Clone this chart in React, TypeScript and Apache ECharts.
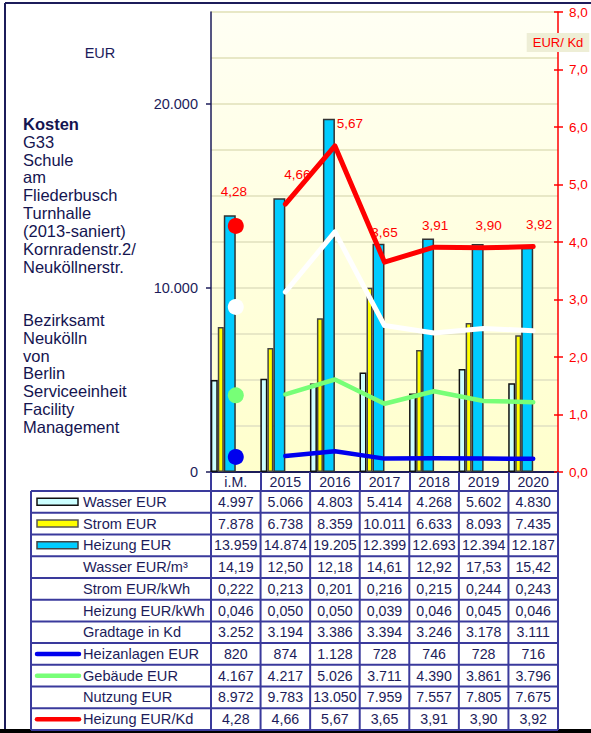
import React, { useEffect, useRef } from 'react';
import * as echarts from 'echarts';

const categories = ['i.M.', '2015', '2016', '2017', '2018', '2019', '2020'];
const wasserEUR = [4997, 5066, 4803, 5414, 4268, 5602, 4830];
const stromEUR = [7878, 6738, 8359, 10011, 6633, 8093, 7435];
const heizungEUR = [13959, 14874, 19205, 12399, 12693, 12394, 12187];
const wasserEURm3 = [14.19, 12.5, 12.18, 14.61, 12.92, 17.53, 15.42];
const stromEURkWh = [0.222, 0.213, 0.201, 0.216, 0.215, 0.244, 0.243];
const heizungEURkWh = [0.046, 0.05, 0.05, 0.039, 0.046, 0.045, 0.046];
const gradtage = [3252, 3194, 3386, 3394, 3246, 3178, 3111];
const heizanlagenEUR = [820, 874, 1128, 728, 746, 728, 716];
const gebaeudeEUR = [4167, 4217, 5026, 3711, 4390, 3861, 3796];
const nutzungEUR = [8972, 9783, 13050, 7959, 7557, 7805, 7675];
const heizungEURKd = [4.28, 4.66, 5.67, 3.65, 3.91, 3.9, 3.92];
const leftTickValues = [0, 10000, 20000];
const titleLines = [
  'Kosten', 'G33', 'Schule', 'am', 'Fliederbusch', 'Turnhalle', '(2013-saniert)',
  'Kornradenstr.2/', 'Neuköllnerstr.', '', '', 'Bezirksamt', 'Neukölln', 'von', 'Berlin',
  'Serviceeinheit', 'Facility', 'Management',
];

const FONT = "'Liberation Sans', Arial, sans-serif";
const NAVY = '#1c1c5a';
const TLINE = '#3a3a9c';
const C_WASSER = '#CCFFFF';
const C_STROM = '#FFFF00';
const C_HEIZ = '#00CCFF';
const C_BLUE = '#0000EE';
const C_GREEN = '#77FF77';
const C_RED = '#FF0000';

function fmt(v: number, dec: number): string {
  const s = v.toFixed(dec);
  const parts = s.split('.');
  const i = parts[0].replace(/\B(?=(\d{3})+(?!\d))/g, '.');
  return parts[1] ? i + ',' + parts[1] : i;
}

// layout constants
const GL = 211, GT = 12, GW = 347, GH = 460;
const COLW = GW / categories.length;
const TTOP = 491, ROWH = 21.73, TLEFT = 31;

type Row = { label: string; values: number[]; dec: number; sym?: { kind: string; fill?: string; stroke: string } };

export default function App() {
  const ref = useRef<HTMLDivElement>(null);
  useEffect(() => {
    const chart = echarts.init(ref.current!, null, { renderer: 'svg' });

    const rows: Row[] = [
      { label: 'Wasser EUR', values: wasserEUR, dec: 0, sym: { kind: 'rect', fill: C_WASSER, stroke: '#111' } },
      { label: 'Strom EUR', values: stromEUR, dec: 0, sym: { kind: 'rect', fill: C_STROM, stroke: '#555' } },
      { label: 'Heizung EUR', values: heizungEUR, dec: 0, sym: { kind: 'rect', fill: C_HEIZ, stroke: '#444' } },
      { label: 'Wasser EUR/m³', values: wasserEURm3, dec: 2 },
      { label: 'Strom EUR/kWh', values: stromEURkWh, dec: 3 },
      { label: 'Heizung EUR/kWh', values: heizungEURkWh, dec: 3 },
      { label: 'Gradtage in Kd', values: gradtage, dec: 0 },
      { label: 'Heizanlagen EUR', values: heizanlagenEUR, dec: 0, sym: { kind: 'line', stroke: C_BLUE } },
      { label: 'Gebäude EUR', values: gebaeudeEUR, dec: 0, sym: { kind: 'line', stroke: C_GREEN } },
      { label: 'Nutzung EUR', values: nutzungEUR, dec: 0 },
      { label: 'Heizung EUR/Kd', values: heizungEURKd, dec: 2, sym: { kind: 'line', stroke: C_RED } },
    ];

    const g: any[] = [];
    // outer frame
    g.push({ type: 'line', shape: { x1: 5, y1: 3, x2: 5, y2: 730 }, style: { stroke: NAVY, lineWidth: 2 } });
    g.push({ type: 'line', shape: { x1: 5, y1: 3, x2: 600, y2: 3 }, style: { stroke: NAVY, lineWidth: 2 } });
    g.push({ type: 'rect', shape: { x: 0, y: 729, width: 600, height: 4 }, style: { fill: '#000' } });

    // left text block
    titleLines.forEach((t, i) => {
      if (!t) return;
      g.push({
        type: 'text', x: 23, y: 124 + i * 17.82,
        style: { text: t, fill: '#141450', fontSize: 16.5, fontFamily: FONT, fontWeight: i === 0 ? 'bold' : 'normal', align: 'left', verticalAlign: 'middle' },
      });
    });
    g.push({ type: 'text', x: 100, y: 53, style: { text: 'EUR', fill: NAVY, fontSize: 14.5, fontFamily: FONT, align: 'center', verticalAlign: 'middle' } });
    g.push({
      type: 'text', x: 558, y: 42.5, z: 10,
      style: { text: 'EUR/ Kd', fill: C_RED, fontSize: 13, fontFamily: FONT, align: 'center', verticalAlign: 'middle', backgroundColor: '#EEEED6', padding: [3, 6, 3, 6], lineHeight: 13 },
    });

    // table
    const nRows = rows.length;
    const tBottom = TTOP + nRows * ROWH;
    for (let k = 0; k <= nRows; k++) {
      const y = TTOP + k * ROWH;
      g.push({ type: 'line', shape: { x1: TLEFT, y1: y, x2: GL + GW, y2: y }, style: { stroke: TLINE, lineWidth: 2 } });
    }
    g.push({ type: 'line', shape: { x1: TLEFT, y1: TTOP, x2: TLEFT, y2: tBottom }, style: { stroke: TLINE, lineWidth: 2 } });
    for (let c = 0; c <= categories.length; c++) {
      const x = GL + c * COLW;
      g.push({ type: 'line', shape: { x1: x, y1: TTOP, x2: x, y2: tBottom }, style: { stroke: TLINE, lineWidth: 2 } });
    }
    rows.forEach((r, k) => {
      const cy = TTOP + k * ROWH + ROWH / 2;
      g.push({ type: 'text', x: 83, y: cy, style: { text: r.label, fill: NAVY, fontSize: 14.6, fontFamily: FONT, align: 'left', verticalAlign: 'middle' } });
      if (r.sym) {
        if (r.sym.kind === 'rect') {
          g.push({ type: 'rect', shape: { x: 37, y: cy - 3.5, width: 41, height: 7 }, style: { fill: r.sym.fill, stroke: r.sym.stroke, lineWidth: 1.5 } });
        } else {
          g.push({ type: 'line', shape: { x1: 37, y1: cy, x2: 79, y2: cy }, style: { stroke: r.sym.stroke, lineWidth: 4.5, lineCap: 'round' } });
        }
      }
      r.values.forEach((v, c) => {
        g.push({
          type: 'text', x: GL + (c + 0.5) * COLW, y: cy,
          style: { text: fmt(v, r.dec), fill: NAVY, fontSize: 14.2, fontFamily: FONT, align: 'center', verticalAlign: 'middle' },
        });
      });
    });

    const labelOffsets = [[-2, -5], [12, -8], [15, 0], [0, -8], [1, 0], [5, 0], [6, 0]];
    const redLabel = {
      show: true, position: 'top', distance: 14, color: C_RED, fontSize: 13.5, fontFamily: FONT,
      formatter: (p: any) => fmt(Array.isArray(p.value) ? p.value[1] : p.value, 2),
    };
    const restNull = (arr: number[]) => arr.map((v, i) => (i === 0 ? '-' : v));

    const option: any = {
      animation: false,
      backgroundColor: '#ffffff',
      grid: {
        left: GL, top: GT, width: GW, height: GH, show: true, borderWidth: 0,
        backgroundColor: { type: 'linear', x: 0, y: 0, x2: 0, y2: 1, colorStops: [{ offset: 0, color: '#FFFFF4' }, { offset: 1, color: '#FFFFCC' }] },
      },
      xAxis: {
        type: 'category', data: categories, boundaryGap: true,
        axisLine: { lineStyle: { color: NAVY, width: 2 } },
        axisTick: { show: true, interval: 0, length: 19, lineStyle: { color: TLINE, width: 2 } },
        axisLabel: { interval: 0, margin: 3, color: NAVY, fontSize: 14.2, fontFamily: FONT },
        splitLine: { show: false },
      },
      yAxis: [
        {
          type: 'value', min: 0, max: 25000, interval: 2500, position: 'left',
          axisLine: { show: true, lineStyle: { color: NAVY, width: 1.5 } },
          axisTick: { show: true, length: 5, customValues: leftTickValues, lineStyle: { color: NAVY, width: 1.5 } },
          axisLabel: { customValues: leftTickValues, margin: 13, color: NAVY, fontSize: 14.5, fontFamily: FONT, formatter: (v: number) => fmt(v, 0) },
          splitLine: { show: false },
        },
        {
          type: 'value', min: 0, max: 8, interval: 1, position: 'right',
          axisLine: { show: true, lineStyle: { color: C_RED, width: 1.5 } },
          axisTick: { show: true, length: 5, lineStyle: { color: C_RED, width: 1.5 } },
          axisLabel: { margin: 11, color: C_RED, fontSize: 13.5, fontFamily: FONT, formatter: (v: number) => fmt(v, 1) },
          splitLine: { show: false },
        },
        {
          type: 'value', min: 0, max: 25000, interval: 2500, position: 'left',
          axisLine: { show: false }, axisTick: { show: false }, axisLabel: { show: false },
          splitLine: { show: true, lineStyle: { color: '#E8E8C6', width: 2 } },
        },
        {
          type: 'value', min: 0, max: 8, interval: 1, position: 'right',
          axisLine: { show: false }, axisLabel: { show: false }, splitLine: { show: false },
          axisTick: { show: true, inside: true, length: 4, lineStyle: { color: C_RED, width: 1.5 } },
        },
      ],
      graphic: g,
      series: [
        { name: 'Wasser EUR', type: 'bar', data: wasserEUR, barWidth: 7, barGap: '0%', z: 2, itemStyle: { color: C_WASSER, borderColor: '#111', borderWidth: 1.5 } },
        { name: 'Strom EUR', type: 'bar', data: stromEUR, barWidth: 6, barGap: '0%', z: 2, itemStyle: { color: C_STROM, borderColor: '#444', borderWidth: 1.5 } },
        { name: 'Heizung EUR', type: 'bar', data: heizungEUR, barWidth: 12, barGap: '0%', z: 2, itemStyle: { color: C_HEIZ, borderColor: '#333', borderWidth: 1.5 } },
        { name: 'spacer', type: 'bar', data: categories.map(() => '-'), barWidth: 25, barGap: '0%', silent: true },
        { name: 'Nutzung EUR', type: 'line', data: restNull(nutzungEUR), showSymbol: false, z: 4, lineStyle: { color: '#FFFFFF', width: 5, cap: 'round', join: 'round' }, itemStyle: { color: '#FFFFFF' } },
        { name: 'Gebäude EUR', type: 'line', data: restNull(gebaeudeEUR), showSymbol: false, z: 4, lineStyle: { color: C_GREEN, width: 4.5, cap: 'round', join: 'round' }, itemStyle: { color: C_GREEN } },
        { name: 'Heizanlagen EUR', type: 'line', data: restNull(heizanlagenEUR), showSymbol: false, z: 4, lineStyle: { color: C_BLUE, width: 4.5, cap: 'round', join: 'round' }, itemStyle: { color: C_BLUE } },
        {
          name: 'Heizung EUR/Kd', type: 'line', yAxisIndex: 1, showSymbol: true, symbolSize: 0.1, z: 5,
          data: heizungEURKd.map((v, i) => (i === 0 ? '-' : { value: v, label: { offset: labelOffsets[i] } })),
          lineStyle: { color: C_RED, width: 5, cap: 'round', join: 'round' }, itemStyle: { color: C_RED },
          label: redLabel,
        },
        {
          name: 'i.M. EUR', type: 'scatter', symbolSize: 16, z: 6,
          data: [
            { value: [categories[0], nutzungEUR[0]], itemStyle: { color: '#FFFFFF', opacity: 1 } },
            { value: [categories[0], gebaeudeEUR[0]], itemStyle: { color: C_GREEN, opacity: 1 } },
            { value: [categories[0], heizanlagenEUR[0]], itemStyle: { color: C_BLUE, opacity: 1 } },
          ],
        },
        {
          name: 'i.M. EUR/Kd', type: 'scatter', yAxisIndex: 1, symbolSize: 16, z: 6,
          itemStyle: { color: C_RED, opacity: 1 },
          data: [{ value: [categories[0], heizungEURKd[0]], label: { offset: labelOffsets[0] } }],
          label: redLabel,
        },
      ],
    };
    chart.setOption(option);
    return () => chart.dispose();
  }, []);
  return <div ref={ref} style={{ position: 'absolute', left: 0, top: 0, width: 591, height: 733, background: '#fff' }} />;
}
